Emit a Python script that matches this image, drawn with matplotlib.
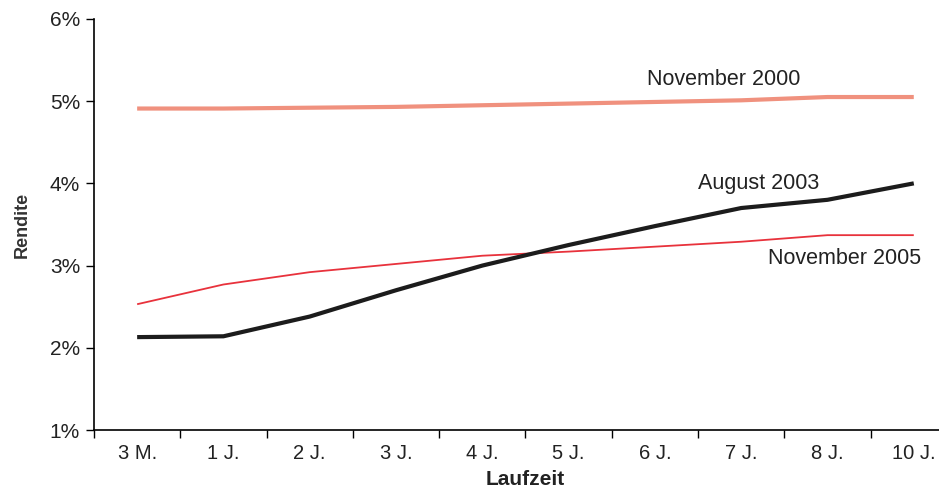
import matplotlib.pyplot as plt
from matplotlib.ticker import FuncFormatter

# ------------------------------
# Data (yield curves, in %)
# ------------------------------
maturities = ["3 M.", "1 J.", "2 J.", "3 J.", "4 J.", "5 J.", "6 J.", "7 J.", "8 J.", "10 J."]
nov_2000 = [4.91, 4.91, 4.92, 4.93, 4.95, 4.97, 4.99, 5.01, 5.05, 5.05]
aug_2003 = [2.13, 2.14, 2.38, 2.70, 3.00, 3.25, 3.48, 3.70, 3.80, 4.00]
nov_2005 = [2.53, 2.77, 2.92, 3.02, 3.12, 3.17, 3.23, 3.29, 3.37, 3.37]

plt.rcParams["font.family"] = ["Liberation Sans", "DejaVu Sans"]

fig = plt.figure(figsize=(9.39, 4.90), dpi=100)
ax = fig.add_axes([0.1001, 0.1224, 0.919, 0.839])

x = list(range(len(maturities)))
ax.plot(x, nov_2000, color="#f0917e", lw=3.0, solid_capstyle="butt")
ax.plot(x, nov_2005, color="#e8323c", lw=1.3, solid_capstyle="butt")
ax.plot(x, aug_2003, color="#1c1c1c", lw=3.0, solid_capstyle="butt")

lab = dict(fontsize=15.5, color="#222222")
ax.text(6.8, 5.26, "November 2000", ha="center", va="center", **lab)
ax.text(7.2, 4.0, "August 2003", ha="center", va="center", **lab)
ax.text(8.2, 3.09, "November 2005", ha="center", va="center", **lab)

ax.set_xlim(-0.5, len(maturities) - 0.5)
ax.set_ylim(1, 6)
ax.set_xticks([i - 0.5 for i in range(len(maturities))])
ax.set_xticklabels([])
ax.set_xticks(x, minor=True)
ax.set_xticklabels(maturities, minor=True, fontsize=14.5, color="#222222")
ax.tick_params(axis="x", which="minor", length=0, pad=10)
ax.tick_params(axis="x", which="major", length=6, width=1.0)
ax.set_yticks([1, 2, 3, 4, 5, 6])
ax.yaxis.set_major_formatter(FuncFormatter(lambda v, p: f"{v:.0f}%"))
ax.tick_params(axis="y", length=6, width=1.0, labelsize=15, pad=4, labelcolor="#222222")

ax.spines["top"].set_visible(False)
ax.spines["right"].set_visible(False)
ax.spines["left"].set_linewidth(1.2)
ax.spines["bottom"].set_linewidth(1.2)

ax.set_ylabel("Rendite", fontsize=13, fontweight="bold", labelpad=14, color="#333333")
ax.set_xlabel("Laufzeit", fontsize=15, fontweight="bold", labelpad=5, color="#222222")

fig.savefig("out.png", dpi=100)
